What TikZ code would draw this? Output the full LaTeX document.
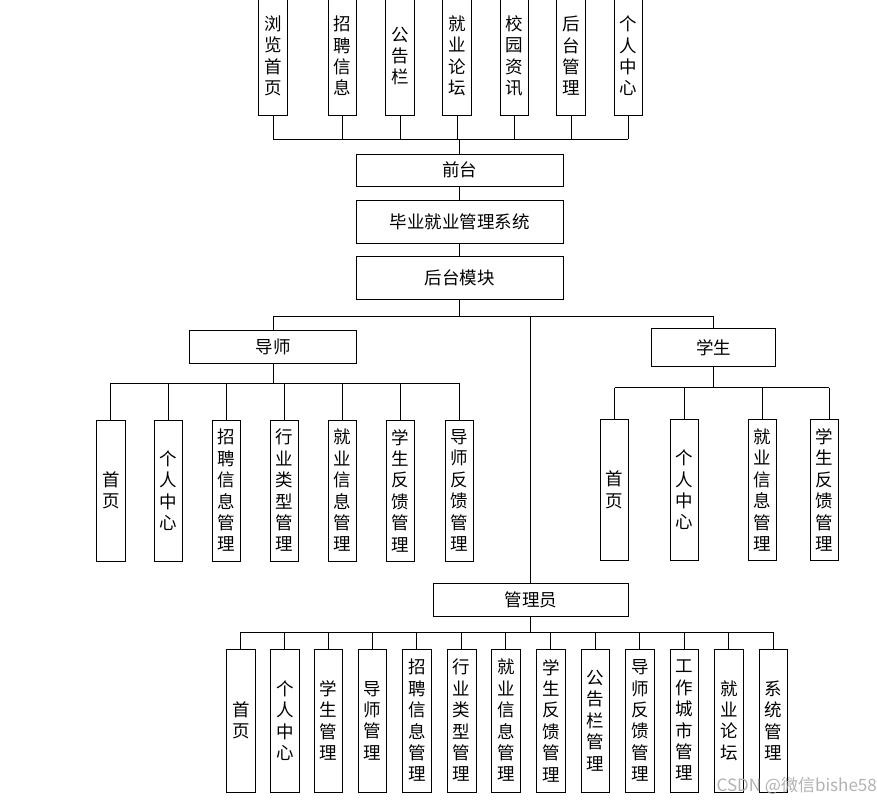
\documentclass[tikz,border=0pt]{standalone}
\usepackage{fontspec}
\setmainfont{Noto Sans CJK SC}
\begin{document}
\begin{tikzpicture}[x=1pt,y=-1pt,
  box/.style={draw, line width=0.8pt, inner sep=0pt, align=center, font=\fontsize{17.5}{21.4}\selectfont},
  vbox/.style={box, minimum width=28.4pt},
  ln/.style={line width=0.8pt}]
\useasboundingbox (0,0) rectangle (877,803);
% buses
\coordinate (topbus) at (0,139.3);
\coordinate (mainbus) at (0,316);
\coordinate (tbus) at (0,383.3);
\coordinate (sbus) at (0,387.7);
\coordinate (abus) at (0,632.3);
% top row
\foreach \x/\t [count=\i] in {273/{浏\\览\\首\\页}, 342.2/{招\\聘\\信\\息}, 400/{公\\告\\栏}, 457/{就\\业\\论\\坛}, 514.2/{校\\园\\资\\讯}, 571/{后\\台\\管\\理}, 628.2/{个\\人\\中\\心}}
  \node[vbox, minimum height=118pt] (t\i) at (\x,56) {\t};
\node[box, minimum width=207pt, minimum height=32pt] (front) at (459.5,170) {前台};
\node[box, minimum width=207pt, minimum height=42.6pt] (sys) at (459.5,222) {毕业就业管理系统};
\node[box, minimum width=207pt, minimum height=42.3pt] (back) at (459.5,278) {后台模块};
\node[box, minimum width=167.7pt, minimum height=33.3pt] (teacher) at (273,346.7) {导师};
\node[box, minimum width=124pt, minimum height=38.4pt] (student) at (713.7,347.5) {学生};
\node[box, minimum width=195pt, minimum height=33.4pt] (admin) at (530.8,600) {管理员};
% teacher children
\foreach \x/\t [count=\i] in {110.8/{首\\页}, 168.5/{个\\人\\中\\心}, 226.5/{招\\聘\\信\\息\\管\\理}, 284.2/{行\\业\\类\\型\\管\\理}, 342.5/{就\\业\\信\\息\\管\\理}, 400.2/{学\\生\\反\\馈\\管\\理}, 459.2/{导\\师\\反\\馈\\管\\理}}
  \node[vbox, minimum height=141pt] (tc\i) at (\x,490.5) {\t};
% student children
\foreach \x/\t [count=\i] in {614.5/{首\\页}, 684.2/{个\\人\\中\\心}, 762.5/{就\\业\\信\\息\\管\\理}, 824.2/{学\\生\\反\\馈\\管\\理}}
  \node[vbox, minimum height=141.4pt] (sc\i) at (\x,490) {\t};
% admin children
\foreach \x/\t [count=\i] in {240.8/{首\\页}, 284.8/{个\\人\\中\\心}, 328.3/{学\\生\\管\\理}, 372.5/{导\\师\\管\\理}, 416.8/{招\\聘\\信\\息\\管\\理}, 461.7/{行\\业\\类\\型\\管\\理}, 505.8/{就\\业\\信\\息\\管\\理}, 550.8/{学\\生\\反\\馈\\管\\理}, 595.5/{公\\告\\栏\\管\\理}, 639.8/{导\\师\\反\\馈\\管\\理}, 684.2/{工\\作\\城\\市\\管\\理}, 728.8/{就\\业\\论\\坛}, 773.3/{系\\统\\管\\理}}
  \node[vbox, minimum height=143pt] (ac\i) at (\x,720.5) {\t};
% connectors top
\foreach \i in {1,...,7} \draw[ln] (t\i.south) -- (t\i.south |- topbus);
\draw[ln] (t1.south |- topbus) -- (t7.south |- topbus);
\draw[ln] (front.north |- topbus) -- (front.north);
\draw[ln] (front.south) -- (sys.north);
\draw[ln] (sys.south) -- (back.north);
% main bus
\draw[ln] (back.south) -- (back.south |- mainbus);
\draw[ln] (teacher.north |- mainbus) -- (student.north |- mainbus);
\draw[ln] (teacher.north |- mainbus) -- (teacher.north);
\draw[ln] (student.north |- mainbus) -- (student.north);
\draw[ln] (admin.north |- mainbus) -- (admin.north);
% teacher bus
\draw[ln] (teacher.south) -- (teacher.south |- tbus);
\draw[ln] (tc1.north |- tbus) -- (tc7.north |- tbus);
\foreach \i in {1,...,7} \draw[ln] (tc\i.north |- tbus) -- (tc\i.north);
% student bus
\draw[ln] (student.south) -- (student.south |- sbus);
\draw[ln] (sc1.north |- sbus) -- ([xshift=4.8pt]sc4.north |- sbus);
\foreach \i in {1,2,3} \draw[ln] (sc\i.north |- sbus) -- (sc\i.north);
\draw[ln] ([xshift=4.8pt]sc4.north |- sbus) -- ([xshift=4.8pt]sc4.north);
% admin bus
\draw[ln] (admin.south) -- (admin.south |- abus);
\draw[ln] (ac1.north |- abus) -- (ac13.north |- abus);
\foreach \i in {1,...,13} \draw[ln] (ac\i.north |- abus) -- (ac\i.north);
% watermark
\node[text=black!30, font=\fontsize{17}{17}\selectfont, anchor=east, inner sep=0pt] (wm) at (877,786) {CSDN @微信bishe58};
\end{tikzpicture}
\end{document}
